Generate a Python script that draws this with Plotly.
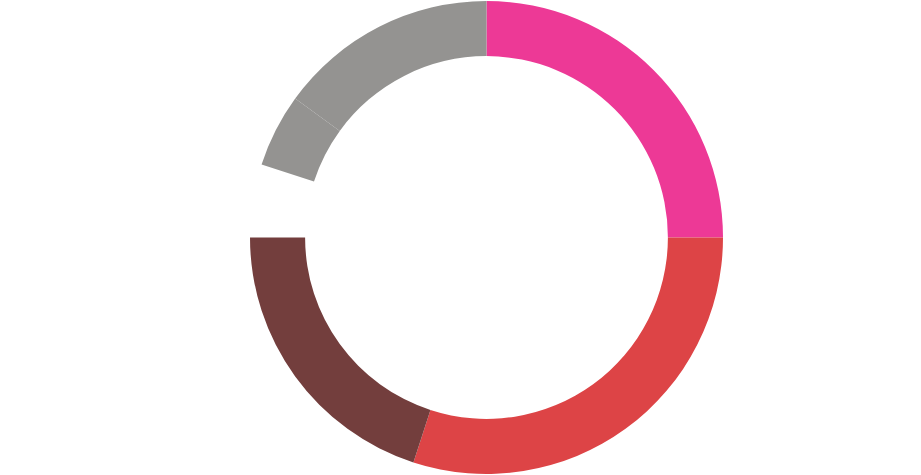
import plotly.graph_objects as go

labels = ["A", "B", "C", "Gap", "D", "E"]
values = [25, 30, 20, 5, 5, 15]
colors = ["#ed3996", "#dd4446", "#733e3d", "rgba(0,0,0,0)", "#949391", "#949391"]

fig = go.Figure(go.Pie(
    labels=labels,
    values=values,
    hole=0.767,
    sort=False,
    direction="clockwise",
    rotation=0,
    marker=dict(colors=colors, line=dict(width=0)),
    textinfo="none",
    hoverinfo="label+value",
    showlegend=False,
    domain=dict(x=[250 / 921, 723 / 921], y=[0, 1]),
))
fig.update_layout(
    width=921, height=475,
    margin=dict(l=0, r=0, t=1, b=1),
    paper_bgcolor="white",
    plot_bgcolor="white",
)
fig.write_html("out.html", config={"displayModeBar": False},
               post_script="document.body.style.margin='0';")
